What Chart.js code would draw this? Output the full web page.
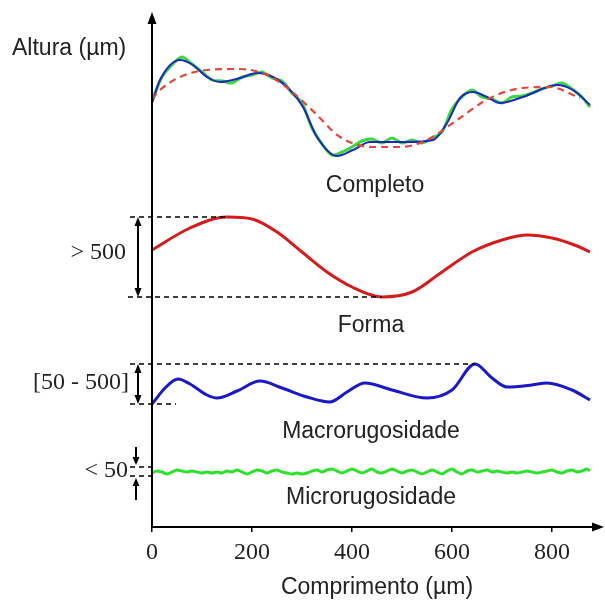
<!DOCTYPE html>
<html>
<head>
<meta charset="utf-8">
<script src="https://cdn.jsdelivr.net/npm/chart.js@4.4.1/dist/chart.umd.min.js"></script>
<style>
  html, body { margin: 0; padding: 0; background: #fff; }
  #wrap { width: 605px; height: 603px; }
</style>
</head>
<body>
<div id="wrap"><canvas id="grafico" width="605" height="603"></canvas></div>
<script>
// comprimento em µm (eixo x), altura em unidades arbitrarias (eixo y)
const xTicks = [0, 200, 400, 600, 800];

// perfil completo
const completoAzulX = [0, 16, 56, 82, 110, 136, 176, 210, 242, 276, 302, 330, 370, 402, 436, 510, 562, 590, 616, 642, 670, 696, 742, 810, 842, 876];
const completoAzulY = [424, 447, 467, 462, 450, 445, 449, 454, 450, 437, 420, 390, 371, 377, 385, 385, 387, 404, 429, 435, 430, 424, 430, 442, 437, 422];

const completoVerdeX = [0, 20, 40, 60, 80, 100, 120, 140, 160, 180, 200, 220, 240, 260, 280, 300, 320, 340, 360, 380, 400, 420, 440, 460, 480, 500, 520, 540, 560, 580, 600, 620, 640, 660, 680, 700, 720, 740, 760, 780, 800, 820, 840, 860, 876];
const completoVerdeY = [426, 450, 462, 470, 463, 455, 447, 446, 444, 450, 452, 455, 449, 446, 434, 424, 399, 383, 372, 375, 380, 386, 388, 384, 389, 384, 387, 384, 389, 395, 418, 430, 437, 430, 428, 424, 430, 431, 434, 438, 441, 444, 438, 430, 420];

const completoFormaX = [0, 16, 56, 110, 176, 230, 276, 326, 376, 442, 496, 550, 610, 676, 742, 796, 856];
const completoFormaY = [428, 437, 450, 457, 458, 452, 437, 414, 390, 380, 380, 387, 407, 429, 439, 440, 429];

// forma
const formaX = [0, 76, 150, 200, 250, 300, 350, 400, 460, 520, 580, 640, 700, 750, 800, 850, 876];
const formaY = [277, 299, 310, 308, 295, 275, 255, 240, 230, 235, 255, 275, 287, 292, 289, 281, 275];

// macrorugosidade
const macroX = [0, 28, 52, 76, 110, 130, 170, 216, 260, 310, 356, 390, 426, 480, 550, 600, 646, 680, 710, 760, 790, 840, 876];
const macroY = [123, 140, 148, 143, 132, 129, 136, 146, 139, 130, 125, 135, 144, 137, 129, 137, 163, 149, 140, 142, 144, 137, 127];

// microrugosidade
const microX = [0, 10, 20, 30, 40, 50, 60, 70, 80, 90,
  100, 110, 120, 130, 140, 150, 160, 170, 180, 190,
  200, 210, 220, 230, 240, 250, 260, 270, 280, 290,
  300, 310, 320, 330, 340, 350, 360, 370, 380, 390,
  400, 410, 420, 430, 440, 450, 460, 470, 480, 490,
  500, 510, 520, 530, 540, 550, 560, 570, 580, 590,
  600, 610, 620, 630, 640, 650, 660, 670, 680, 690,
  700, 710, 720, 730, 740, 750, 760, 770, 780, 790,
  800, 810, 820, 830, 840, 850, 860, 870, 876];
const microY = [54, 56, 55, 53, 55, 57, 56, 55, 56, 55,
  54, 55, 54, 55, 54, 56, 55, 57, 55, 53,
  55, 57, 56, 54, 56, 57, 55, 54, 53, 54,
  53, 54, 56, 57, 55, 57, 58, 56, 54, 56,
  58, 56, 54, 56, 58, 55, 54, 56, 58, 56,
  54, 56, 57, 55, 53, 55, 57, 55, 53, 56,
  58, 55, 53, 56, 57, 55, 56, 57, 55, 56,
  55, 54, 55, 54, 55, 56, 55, 54, 55, 56,
  57, 55, 54, 56, 57, 55, 56, 58, 56];

function pontos(xs, ys) {
  return xs.map((x, i) => ({ x: x, y: ys[i] }));
}

const sans = 'Liberation Sans, Arial, sans-serif';
const serif = 'Liberation Serif, Times New Roman, serif';

function seta(ctx, x, y, dir, comp, larg) {
  ctx.beginPath();
  ctx.moveTo(x, y);
  if (dir === 'up') { ctx.lineTo(x - larg, y + comp); ctx.lineTo(x + larg, y + comp); }
  if (dir === 'down') { ctx.lineTo(x - larg, y - comp); ctx.lineTo(x + larg, y - comp); }
  if (dir === 'right') { ctx.lineTo(x - comp, y - larg); ctx.lineTo(x - comp, y + larg); }
  ctx.closePath();
  ctx.fill();
}

function linha(ctx, x1, y1, x2, y2) {
  ctx.beginPath();
  ctx.moveTo(x1, y1);
  ctx.lineTo(x2, y2);
  ctx.stroke();
}

function duplaSeta(ctx, x, y1, y2) {
  ctx.lineWidth = 2;
  ctx.setLineDash([]);
  linha(ctx, x, y1 + 6, x, y2 - 6);
  seta(ctx, x, y1, 'up', 9, 3.5);
  seta(ctx, x, y2, 'down', 9, 3.5);
}

const decor = {
  id: 'decor',
  afterDatasetsDraw(chart) {
    const ctx = chart.ctx;
    const xs = chart.scales.x, ys = chart.scales.y;
    const a = chart.chartArea;
    ctx.save();
    ctx.strokeStyle = '#000';
    ctx.fillStyle = '#000';

    // eixos com setas
    ctx.lineWidth = 2;
    linha(ctx, a.left, a.bottom, a.left, a.top + 8);
    seta(ctx, a.left, a.top, 'up', 12, 4.5);
    linha(ctx, a.left, a.bottom, a.right - 6, a.bottom);
    seta(ctx, a.right + 2, a.bottom, 'right', 12, 4.5);

    // linhas tracejadas de amplitude
    ctx.lineWidth = 1.3;
    ctx.setLineDash([5, 4]);
    const fMax = Math.max(...formaY), fMin = Math.min(...formaY);
    const yfMax = ys.getPixelForValue(fMax), yfMin = ys.getPixelForValue(fMin);
    linha(ctx, 130, yfMax, xs.getPixelForValue(formaX[formaY.indexOf(fMax)]), yfMax);
    linha(ctx, 128, yfMin, xs.getPixelForValue(formaX[formaY.indexOf(fMin)]), yfMin);

    const mMax = Math.max(...macroY), mMin = Math.min(...macroY);
    const ymMax = ys.getPixelForValue(mMax), ymMin = ys.getPixelForValue(mMin);
    linha(ctx, 130, ymMax, xs.getPixelForValue(macroX[macroY.indexOf(mMax)]), ymMax);
    linha(ctx, 130, ymMin, 176, ymMin);

    const uMax = ys.getPixelForValue(Math.max(...microY) + 2);
    const uMin = ys.getPixelForValue(Math.min(...microY) - 2);
    linha(ctx, 130, uMax, 155, uMax);
    linha(ctx, 130, uMin, 155, uMin);

    // setas duplas
    duplaSeta(ctx, 138, yfMax, yfMin);
    duplaSeta(ctx, 138, ymMax, ymMin);
    ctx.lineWidth = 2;
    linha(ctx, 136, uMax - 20, 136, uMax - 6);
    seta(ctx, 136, uMax - 2, 'down', 8, 3.5);
    linha(ctx, 136, uMin + 24, 136, uMin + 6);
    seta(ctx, 136, uMin + 2, 'up', 8, 3.5);

    // textos
    ctx.fillStyle = '#222';
    ctx.font = '23px ' + sans;
    ctx.textBaseline = 'middle';
    ctx.textAlign = 'left';
    ctx.fillText('Altura (µm)', 12, 49);

    ctx.textAlign = 'center';
    ctx.textBaseline = 'alphabetic';
    const cx = xs.getPixelForValue(446);
    ctx.fillText('Completo', cx, 192);
    ctx.fillText('Forma', cx - 4, 332);
    ctx.fillText('Macrorugosidade', cx - 4, 438);
    ctx.fillText('Microrugosidade', cx - 4, 504);

    ctx.font = '24px ' + serif;
    ctx.textAlign = 'right';
    ctx.textBaseline = 'middle';
    ctx.fillStyle = '#222';
    ctx.fillText('> 500', 126, 253);
    ctx.fillText('[50 - 500]', 129, 383);
    ctx.fillText('< 50', 128, 471);
    ctx.restore();
  }
};

new Chart(document.getElementById('grafico'), {
  type: 'line',
  data: {
    datasets: [
      { label: 'Completo forma', data: pontos(completoFormaX, completoFormaY), borderColor: 'rgb(228,70,60)', borderWidth: 2.2, borderDash: [7, 5], cubicInterpolationMode: 'monotone' },
      { label: 'Completo', data: pontos(completoAzulX, completoAzulY), borderColor: 'rgb(30,40,190)', borderWidth: 2, cubicInterpolationMode: 'monotone' },
      { label: 'Completo micro', data: pontos(completoVerdeX, completoVerdeY), borderColor: 'rgb(60,215,60)', borderWidth: 3, tension: 0.3 },
      { label: 'Forma', data: pontos(formaX, formaY), borderColor: 'rgb(212,28,28)', borderWidth: 3, cubicInterpolationMode: 'monotone' },
      { label: 'Macrorugosidade', data: pontos(macroX, macroY), borderColor: 'rgb(25,25,200)', borderWidth: 3, cubicInterpolationMode: 'monotone' },
      { label: 'Microrugosidade', data: pontos(microX, microY), borderColor: 'rgb(45,225,45)', borderWidth: 3, tension: 0.3 }
    ]
  },
  options: {
    responsive: false,
    animation: false,
    events: [],
    elements: { point: { radius: 0 } },
    layout: { padding: { left: 152, top: 12, right: 3, bottom: 0 } },
    plugins: { legend: { display: false }, tooltip: { enabled: false } },
    scales: {
      x: {
        type: 'linear',
        min: 0,
        max: 900,
        afterFit: (s) => { s.height = 76; },
        afterBuildTicks: (s) => { s.ticks = xTicks.map(v => ({ value: v })); },
        border: { display: false },
        grid: { display: true, drawOnChartArea: false, drawTicks: true, tickLength: 5, color: '#000', lineWidth: 1.5 },
        ticks: { color: '#222', padding: 6, maxRotation: 0, font: { family: serif, size: 24 } },
        title: { display: true, text: 'Comprimento (µm)', color: '#222', font: { family: sans, size: 23 }, padding: { top: 0, bottom: 2 } }
      },
      y: {
        display: false,
        min: 0,
        max: 515
      }
    }
  },
  plugins: [decor]
});
</script>
</body>
</html>
